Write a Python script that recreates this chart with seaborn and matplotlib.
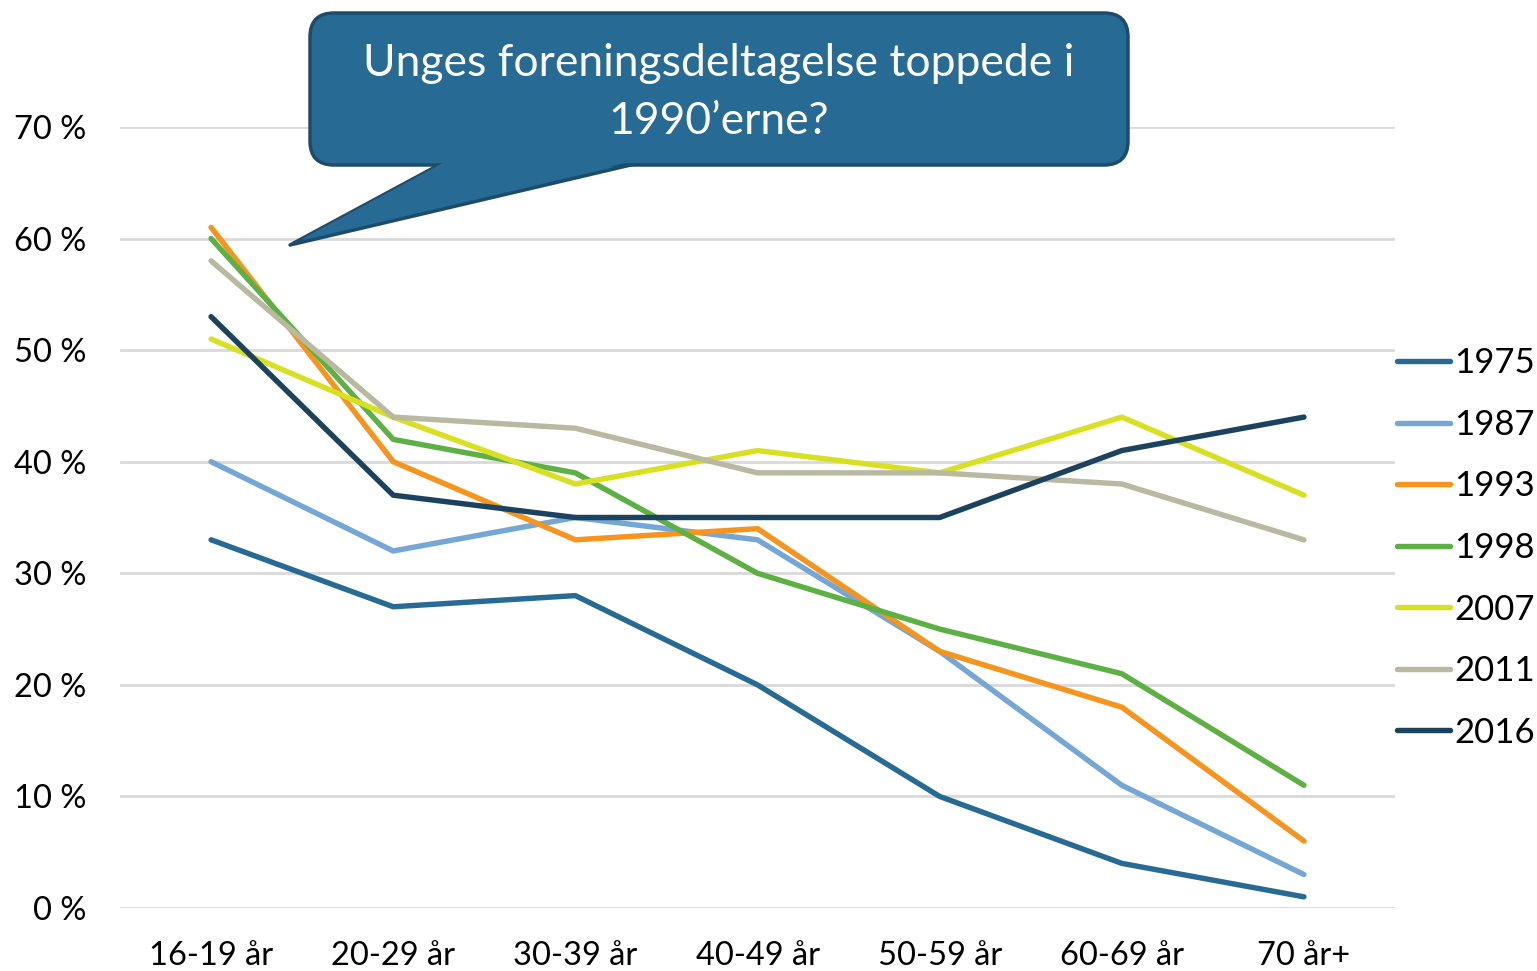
import pandas as pd
import seaborn as sns
from matplotlib import pyplot as plt
from matplotlib.lines import Line2D
from matplotlib.patches import FancyBboxPatch, Polygon

# data
age_groups = ["16-19 år", "20-29 år", "30-39 år", "40-49 år", "50-59 år", "60-69 år", "70 år+"]
years = ["1975", "1987", "1993", "1998", "2007", "2011", "2016"]
v1975 = [33, 27, 28, 20, 10, 4, 1]
v1987 = [40, 32, 35, 33, 23, 11, 3]
v1993 = [61, 40, 33, 34, 23, 18, 6]
v1998 = [60, 42, 39, 30, 25, 21, 11]
v2007 = [51, 44, 38, 41, 39, 44, 37]
v2011 = [58, 44, 43, 39, 39, 38, 33]
v2016 = [53, 37, 35, 35, 35, 41, 44]
colors = ["#276A93", "#74A7D6", "#F7941D", "#5DB043", "#D8E021", "#B9B9A1", "#1B425E"]

series = [v1975, v1987, v1993, v1998, v2007, v2011, v2016]
rows = []
for yr, vals in zip(years, series):
    for age, v in zip(age_groups, vals):
        rows.append({"alder": age, "andel": v / 100, "aar": yr})
df = pd.DataFrame(rows)

sns.set_style("white")
plt.rcParams["font.family"] = ["Lato", "DejaVu Sans"]
plt.rcParams["text.color"] = "black"
plt.rcParams["xtick.color"] = "black"
plt.rcParams["ytick.color"] = "black"

fig = plt.figure(figsize=(15.37, 9.71), dpi=100)
ax = fig.add_axes([120 / 1537, 1 - 908 / 971, 1275 / 1537, 781 / 971])

palette = dict(zip(years, colors))
sns.lineplot(data=df, x="alder", y="andel", hue="aar", palette=palette,
             linewidth=3.9, solid_capstyle="round", sort=False, ax=ax, legend=False)

ax.set_xlim(-0.5, 6.5)
ax.set_ylim(0, 0.7)
ax.set_yticks([i / 10 for i in range(8)])
ax.set_yticklabels([f"{i * 10} %" for i in range(8)])
ax.grid(axis="y", color="#D9D9D9", linewidth=2)
ax.set_axisbelow(True)
for s in ax.spines.values():
    s.set_visible(False)
ax.tick_params(axis="y", length=0, pad=24, labelsize=23.5)
ax.tick_params(axis="x", length=0, pad=24, labelsize=23.5)
ax.set_xlabel("")
ax.set_ylabel("")

handles = [Line2D([], [], color=c, linewidth=3.9, solid_capstyle="round") for c in colors]
fig.legend(handles, years, loc="center left", bbox_to_anchor=(1397 / 1537, 1 - 548 / 971),
           frameon=False, fontsize=25, handlelength=1.52, handletextpad=0.12,
           labelspacing=0.85, borderpad=0, borderaxespad=0)

# callout bubble
ov = fig.add_axes([0, 0, 1, 1], facecolor="none")
ov.set_xlim(0, 1537)
ov.set_ylim(971, 0)
ov.axis("off")
fill = "#276A93"
edge = "#1D4B6B"
ov.add_patch(Polygon([(448, 160), (652, 160), (290, 245)], closed=True,
                     facecolor=fill, edgecolor=edge, linewidth=2.5, joinstyle="round"))
ov.add_patch(FancyBboxPatch((310, 13), 818, 152, boxstyle="round,pad=0,rounding_size=24",
                            facecolor=fill, edgecolor=edge, linewidth=2.5))
ov.add_patch(Polygon([(452, 158), (646, 158), (300, 240)], closed=True,
                     facecolor=fill, edgecolor="none"))
ov.text(719, 63, "Unges foreningsdeltagelse toppede i", color="white", fontsize=32,
        ha="center", va="center")
ov.text(719, 121, "1990\u2019erne?", color="white", fontsize=32, ha="center", va="center")

fig.savefig("out.png", dpi=100)
